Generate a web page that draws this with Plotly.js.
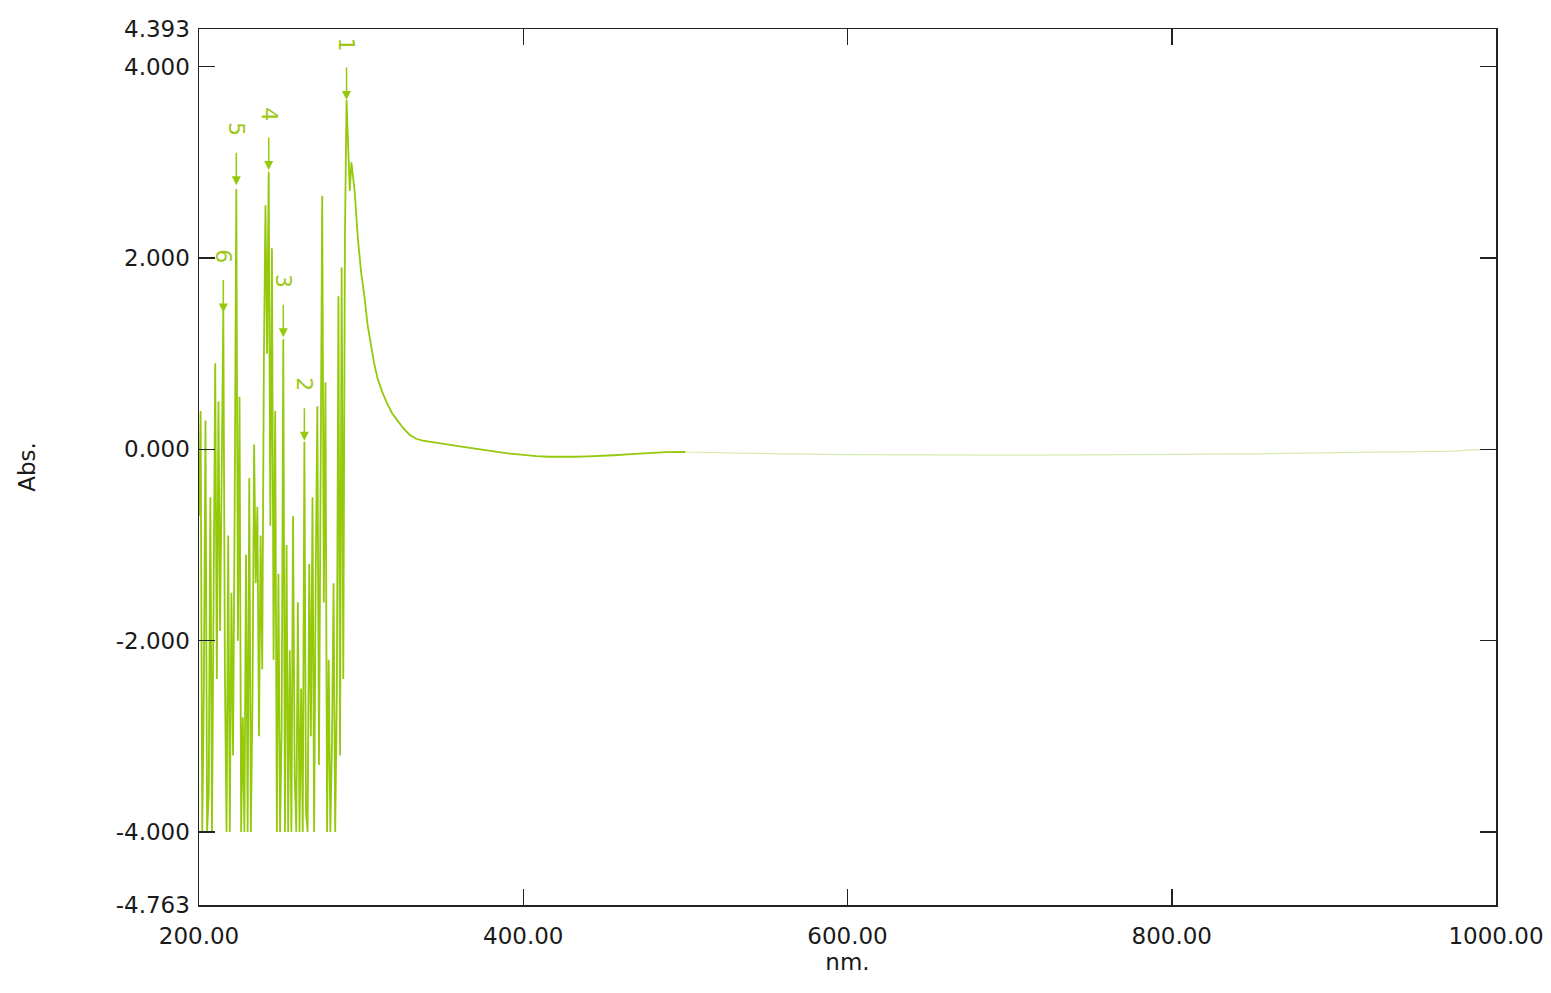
<!DOCTYPE html>
<html>
<head>
<meta charset="utf-8">
<script src="https://cdn.plot.ly/plotly-3.0.1.min.js"></script>
<style>html,body{margin:0;padding:0;background:#fff;}#chart{width:1551px;height:993px;}</style>
</head>
<body>
<div id="chart"></div>
<script>
// Wavelength (nm) and absorbance, 200-500 nm (main scan)
const wavelength = [
  200,201,202,203,204,205,206,207,208,209,210,211,212,213,214,215,216,217,218,219,
  220,221,222,223,224,225,226,227,228,229,230,231,232,233,234,235,236,237,238,239,
  240,241,242,243,244,245,246,247,248,249,250,251,252,253,254,255,256,257,258,259,
  260,261,262,263,264,265,266,267,268,269,270,271,272,273,274,275,276,277,278,279,
  280,281,282,283,284,285,286,287,288,289,290,291,292,293,294,295,296,298,300,302,
  304,306,308,310,313,316,319,322,326,330,334,338,343,350,357,363,370,377,384,392,
  400,408,416,424,432,440,448,456,464,472,480,488,500
];
const absorbance = [
  -0.7,0.4,-4,-2.5,0.3,-4,-3.6,-0.5,-4,-1.8,0.9,-2.4,0.5,-1.9,-0.4,1.45,-2.4,-4,-0.9,-4,
  -1.5,-3.2,-0.6,2.72,-2.0,0.55,-4,-2.8,-4,-1.1,-4,-0.3,-4,-2.6,0.05,-1.4,-0.6,-3.0,-0.9,-2.3,
  0.9,2.55,1.0,2.9,-0.8,2.1,-2.2,0.4,-4,-1.3,-4,-2.9,1.15,-4,-1.0,-4,-2.1,-4,-0.7,-3.4,
  -4,-1.6,-4,-2.5,-4,0.08,-3.8,-4,-1.2,-3.0,-0.5,-4,-1.3,0.45,-3.3,0.55,2.65,-1.6,0.7,-4,
  -2.2,-4,-3.1,-1.4,-4,-2.6,1.6,-3.2,1.9,-2.4,2.2,3.65,3.2,2.7,3.0,2.85,2.7,2.2,1.85,1.6,
  1.3,1.1,0.9,0.75,0.6,0.48,0.38,0.31,0.22,0.15,0.11,0.09,0.075,0.055,0.04,0.025,0.005,-0.01,-0.028,-0.045,
  -0.06,-0.072,-0.078,-0.08,-0.078,-0.074,-0.07,-0.062,-0.053,-0.045,-0.037,-0.03,-0.028
];
// Faint continuation 500-1000 nm
const wavelengthTail = [500,520,550,600,650,700,750,800,850,880,920,975,985,1000];
const absorbanceTail = [-0.028,-0.035,-0.045,-0.055,-0.06,-0.06,-0.058,-0.055,-0.048,-0.04,-0.03,-0.02,-0.005,0.0];

// Peak picks
const peakLabels = ["1","2","3","4","5","6"];
const peakNm = [291, 265, 252, 243, 223, 215];
const peakAbs = [3.65, 0.09, 1.17, 2.92, 2.76, 1.43];

// Axis ticks
const xTickVals = [200, 400, 600, 800, 1000];
const xTickText = ["200.00", "400.00", "600.00", "800.00", "1000.00"];
const yTickVals = [4.393, 4, 2, 0, -2, -4, -4.763];
const yTickText = ["4.393", "4.000", "2.000", "0.000", "-2.000", "-4.000", "-4.763"];

const lineGreen = "#94C90C";
const labelGreen = "#9CC81A";

const traces = [
  {x: wavelength, y: absorbance, type: "scatter", mode: "lines",
   line: {color: lineGreen, width: 1.8}, showlegend: false, hoverinfo: "x+y"},
  {x: wavelengthTail, y: absorbanceTail, type: "scatter", mode: "lines",
   line: {color: "#D6EBB0", width: 1.2}, showlegend: false, hoverinfo: "x+y"}
];

const annotations = peakLabels.map((lab, i) => ({
  x: peakNm[i], y: peakAbs[i], xref: "x", yref: "y",
  text: lab, textangle: 90, showarrow: true,
  ax: 0, ay: -56, arrowhead: 2, arrowsize: 1.2, arrowwidth: 1.5,
  arrowcolor: lineGreen, standoff: 0, borderpad: 16,
  font: {family: "DejaVu Sans", size: 22, color: labelGreen}
}));

const axisFont = {family: "DejaVu Sans", size: 23, color: "#1a1a1a"};

const layout = {
  width: 1551, height: 993,
  margin: {l: 199, r: 55, t: 29, b: 88},
  paper_bgcolor: "#ffffff", plot_bgcolor: "#ffffff",
  font: axisFont,
  xaxis: {
    range: [200, 1000], tickvals: xTickVals, ticktext: xTickText,
    ticks: "inside", ticklen: 16, tickwidth: 1.5, tickcolor: "#222",
    showline: true, linecolor: "#222", linewidth: 1.5, mirror: "ticks",
    showgrid: false, zeroline: false, tickfont: axisFont, ticklabelstandoff: 10,
    title: {text: "nm.", font: axisFont, standoff: 6}
  },
  yaxis: {
    range: [-4.763, 4.393], tickvals: yTickVals, ticktext: yTickText,
    ticks: "inside", ticklen: 16, tickwidth: 1.5, tickcolor: "#222",
    showline: true, linecolor: "#222", linewidth: 1.5, mirror: "ticks",
    showgrid: false, zeroline: false, tickfont: axisFont, ticklabelstandoff: 3,
    title: {text: "Abs.", font: axisFont, standoff: 73}
  },
  annotations: annotations
};

Plotly.newPlot("chart", traces, layout, {displayModeBar: false, staticPlot: true});
</script>
</body>
</html>
